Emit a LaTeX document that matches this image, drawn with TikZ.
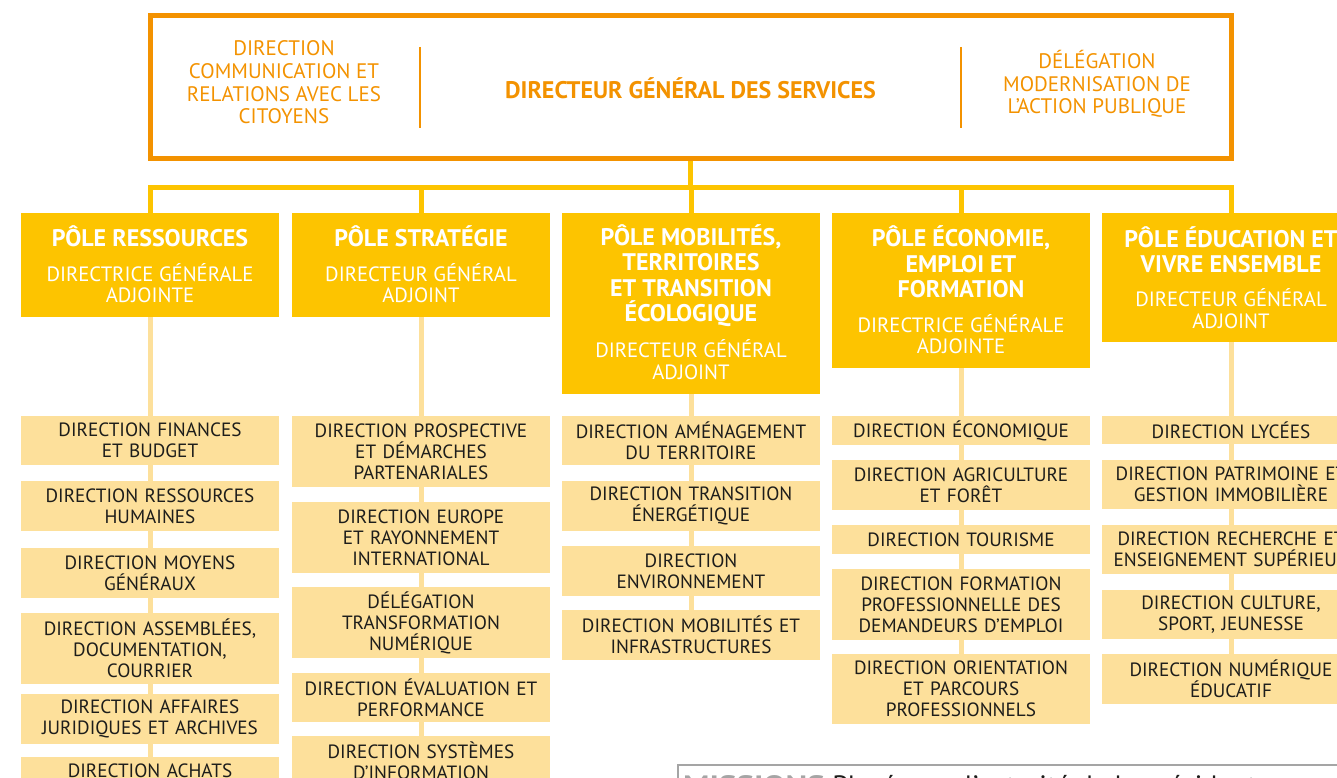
\documentclass[tikz,border=0pt]{standalone}
\usepackage{fontspec}
\setmainfont{PT Sans}
\definecolor{orangec}{RGB}{243,146,0}
\definecolor{yellowc}{RGB}{253,196,0}
\definecolor{lightc}{RGB}{253,224,155}
\definecolor{darkc}{RGB}{29,29,27}
\definecolor{grayc}{RGB}{165,165,165}
\begin{document}
\begin{tikzpicture}[x=1pt,y=-1pt,
  topbox/.style={draw=orangec, line width=5pt, minimum width=1081pt, minimum height=142.5pt, inner sep=0pt},
  toptext/.style={text=orangec, align=center, font=\fontsize{21}{22.7}\selectfont, inner sep=0pt},
  topbold/.style={text=orangec, font=\bfseries\fontsize{24}{26}\selectfont, inner sep=0pt},
  divider/.style={draw=orangec, line width=2.5pt},
  ybar/.style={draw=yellowc, line width=5pt},
  pole/.style={fill=yellowc, minimum width=258pt, inner sep=0pt},
  poletitle/.style={text=white, align=center, font=\bfseries\fontsize{24}{25.5}\selectfont, inner sep=0pt},
  polesub/.style={text=white, align=center, font=\fontsize{20.7}{21.7}\selectfont, inner sep=0pt},
  dirbox/.style={fill=lightc, minimum width=258pt, text width=254pt, align=center, inner sep=0pt, text=darkc, font=\fontsize{19.2}{21}\selectfont},
  lline/.style={draw=lightc, line width=5pt},
]
\useasboundingbox (0,0) rectangle (1337,778);
\clip (0,0) rectangle (1337,778);

% top box
\node[topbox] (dgs) at (690.5,87.25) {};
\node[toptext] (comm) at (284,82.5) {DIRECTION\\COMMUNICATION ET\\RELATIONS AVEC LES\\CITOYENS};
\node[topbold] (dgst) at (690.5,88) {DIRECTEUR GÉNÉRAL DES SERVICES};
\node[toptext] (deleg) at (1097,84) {DÉLÉGATION\\MODERNISATION DE\\L’ACTION PUBLIQUE};
\draw[divider] (420,47) -- (420,128);
\draw[divider] (961,47) -- (961,128);

% poles
\node[pole, minimum height=104pt] (p1) at (150,265.2) {};
\node[pole, minimum height=104pt] (p2) at (421,265.2) {};
\node[pole, minimum height=181pt] (p3) at (691,303.7) {};
\node[pole, minimum height=155pt] (p4) at (961,290.7) {};
\node[pole, minimum height=129pt] (p5) at (1231,277.7) {};

\node[poletitle] (p1t) at (150,236.5) {PÔLE RESSOURCES};
\node[polesub] (p1s) at (150,283) {DIRECTRICE GÉNÉRALE\\ADJOINTE};
\node[poletitle] (p2t) at (421,236.5) {PÔLE STRATÉGIE};
\node[polesub] (p2s) at (421,283) {DIRECTEUR GÉNÉRAL\\ADJOINT};
\node[poletitle] (p3t) at (691,275.5) {PÔLE MOBILITÉS,\\TERRITOIRES\\ET TRANSITION\\ÉCOLOGIQUE};
\node[polesub] (p3s) at (691,359.5) {DIRECTEUR GÉNÉRAL\\ADJOINT};
\node[poletitle] (p4t) at (961,262) {PÔLE ÉCONOMIE,\\EMPLOI ET\\FORMATION};
\node[polesub] (p4s) at (961,334) {DIRECTRICE GÉNÉRALE\\ADJOINTE};
\node[poletitle] (p5t) at (1231,249.5) {PÔLE ÉDUCATION ET\\VIVRE ENSEMBLE};
\node[polesub] (p5s) at (1231,308.5) {DIRECTEUR GÉNÉRAL\\ADJOINT};

% connectors top
\coordinate (bar) at (690.5,187.5);
\draw[ybar] (dgs.south) -- (bar);
\draw[ybar] (p1.north) |- (bar) -| (p5.north);
\foreach \p in {p2,p3,p4} \draw[ybar] (\p.north) -- (\p.north |- bar);

% column 1
\node[dirbox, minimum height=49pt] (c1a) at (150,440.5) {DIRECTION FINANCES\\ET BUDGET};
\node[dirbox, minimum height=50pt] (c1b) at (150,506) {DIRECTION RESSOURCES\\HUMAINES};
\node[dirbox, minimum height=50pt] (c1c) at (150,573) {DIRECTION MOYENS\\GÉNÉRAUX};
\node[dirbox, minimum height=71pt] (c1d) at (150,648.5) {DIRECTION ASSEMBLÉES,\\DOCUMENTATION,\\COURRIER};
\node[dirbox, minimum height=50pt] (c1e) at (150,719) {DIRECTION AFFAIRES\\JURIDIQUES ET ARCHIVES};
\node[dirbox, minimum height=28pt] (c1f) at (150,771) {DIRECTION ACHATS};

% column 2
\node[dirbox, minimum height=71pt] (c2a) at (421,451.5) {DIRECTION PROSPECTIVE\\ET DÉMARCHES\\PARTENARIALES};
\node[dirbox, minimum height=71pt] (c2b) at (421,537.5) {DIRECTION EUROPE\\ET RAYONNEMENT\\INTERNATIONAL};
\node[dirbox, minimum height=71pt] (c2c) at (421,622.5) {DÉLÉGATION\\TRANSFORMATION\\NUMÉRIQUE};
\node[dirbox, minimum height=49pt] (c2d) at (421,697.5) {DIRECTION ÉVALUATION ET\\PERFORMANCE};
\node[dirbox, minimum height=50pt] (c2e) at (421,761) {DIRECTION SYSTÈMES\\D’INFORMATION};

% column 3
\node[dirbox, minimum height=49pt] (c3a) at (691,440.5) {DIRECTION AMÉNAGEMENT\\DU TERRITOIRE};
\node[dirbox, minimum height=50pt] (c3b) at (691,506) {DIRECTION TRANSITION\\ÉNERGÉTIQUE};
\node[dirbox, minimum height=50pt] (c3c) at (691,571) {DIRECTION\\ENVIRONNEMENT};
\node[dirbox, minimum height=50pt] (c3d) at (691,635) {DIRECTION MOBILITÉS ET\\INFRASTRUCTURES};

% column 4
\node[dirbox, minimum height=29pt] (c4a) at (961,430.5) {DIRECTION ÉCONOMIQUE};
\node[dirbox, minimum height=50pt] (c4b) at (961,485) {DIRECTION AGRICULTURE\\ET FORÊT};
\node[dirbox, minimum height=29pt] (c4c) at (961,539.5) {DIRECTION TOURISME};
\node[dirbox, minimum height=71pt] (c4d) at (961,604.5) {DIRECTION FORMATION\\PROFESSIONNELLE DES\\DEMANDEURS D’EMPLOI};
\node[dirbox, minimum height=70pt] (c4e) at (961,689) {DIRECTION ORIENTATION\\ET PARCOURS\\PROFESSIONNELS};

% column 5
\node[dirbox, minimum height=28pt] (c5a) at (1231,430) {DIRECTION LYCÉES};
\node[dirbox, minimum height=49pt] (c5b) at (1231,484.5) {DIRECTION PATRIMOINE ET\\GESTION IMMOBILIÈRE};
\node[dirbox, minimum height=49pt] (c5c) at (1231,549.5) {DIRECTION RECHERCHE ET\\ENSEIGNEMENT SUPÉRIEUR};
\node[dirbox, minimum height=49pt] (c5d) at (1231,614.5) {DIRECTION CULTURE,\\SPORT, JEUNESSE};
\node[dirbox, minimum height=50pt] (c5e) at (1231,679) {DIRECTION NUMÉRIQUE\\ÉDUCATIF};

% light connectors
\foreach \a/\b in {p1/c1a,c1a/c1b,c1b/c1c,c1c/c1d,c1d/c1e,c1e/c1f,
                   p2/c2a,c2a/c2b,c2b/c2c,c2c/c2d,c2d/c2e,
                   p3/c3a,c3a/c3b,c3b/c3c,c3c/c3d,
                   p4/c4a,c4a/c4b,c4b/c4c,c4c/c4d,c4d/c4e,
                   p5/c5a,c5a/c5b,c5b/c5c,c5c/c5d,c5d/c5e}
  \draw[lline] (\a.south) -- (\b.north);

% missions box (cut)
\node[draw=grayc, line width=2pt, anchor=north west, minimum width=800pt, minimum height=100pt, inner sep=0pt] (missions) at (677,764) {};
\node[anchor=base west, inner sep=0pt, font=\fontsize{28}{32}\selectfont, text=darkc] (mtext) at (683,795) {{\color{grayc}\scalebox{1.18}[1]{\bfseries MISSIONS}} Placé sous l’autorité de la présidente};
\end{tikzpicture}
\end{document}
